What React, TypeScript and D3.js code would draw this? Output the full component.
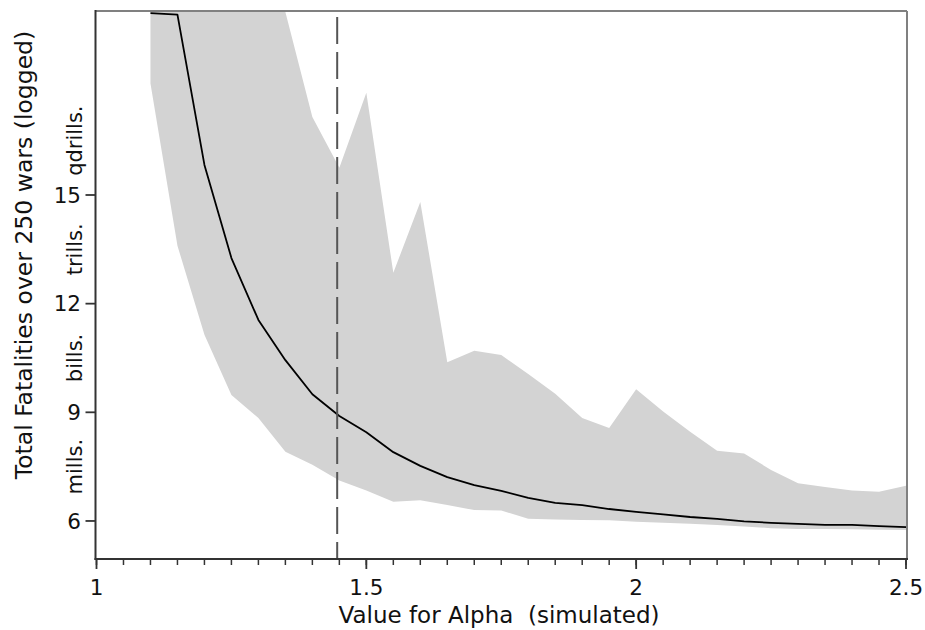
import React from "react";
import * as d3 from "d3";

const alpha = [1.1, 1.15, 1.2, 1.25, 1.3, 1.35, 1.4, 1.45, 1.5, 1.55, 1.6, 1.65, 1.7, 1.75, 1.8, 1.85, 1.9, 1.95, 2.0, 2.05, 2.1, 2.15, 2.2, 2.25, 2.3, 2.35, 2.4, 2.45, 2.5];
const median = [20.02, 19.98, 15.83, 13.26, 11.55, 10.44, 9.5, 8.9, 8.45, 7.9, 7.52, 7.21, 6.99, 6.83, 6.64, 6.5, 6.44, 6.33, 6.25, 6.18, 6.11, 6.06, 5.99, 5.95, 5.92, 5.89, 5.89, 5.86, 5.83];
const upper = [20.5, 20.5, 20.5, 20.5, 20.5, 20.05, 17.15, 15.75, 17.82, 12.85, 14.81, 10.38, 10.7, 10.58, 10.06, 9.51, 8.84, 8.57, 9.64, 9.02, 8.46, 7.94, 7.86, 7.41, 7.04, 6.94, 6.84, 6.81, 6.97];
const lower = [18.08, 13.6, 11.14, 9.48, 8.84, 7.91, 7.55, 7.12, 6.84, 6.53, 6.57, 6.44, 6.3, 6.29, 6.06, 6.04, 6.03, 6.02, 5.98, 5.95, 5.92, 5.89, 5.85, 5.8, 5.78, 5.78, 5.77, 5.76, 5.75];

const xTicks = [1, 1.5, 2, 2.5];
const xTickLabels = ["1", "1.5", "2", "2.5"];
const yTicks = [6, 9, 12, 15];
const unitPos = [7.5, 10.5, 13.5, 16.5];
const unitLabels = ["mills.", "bills.", "trills.", "qdrills."];
const refAlpha = 1.446;

const W = 925;
const H = 630;
const left = 95.5;
const right = 907;
const top = 11;
const bottom = 559;

export default function App() {
  const x = d3.scaleLinear().domain([1, 2.5]).range([96.5, 906]);
  const y = d3.scaleLinear().domain([4.95, 20.08]).range([bottom, top]);

  const idx = alpha.map((_, i) => i);
  const area = d3
    .area<number>()
    .x((i) => x(alpha[i]))
    .y0((i) => y(lower[i]))
    .y1((i) => y(upper[i]));
  const line = d3
    .line<number>()
    .x((i) => x(alpha[i]))
    .y((i) => y(median[i]));

  const minor = d3.range(0, 31).map((k) => 1 + k * 0.05);
  const font = "'DejaVu Sans', Verdana, sans-serif";

  return (
    <svg width={W} height={H} style={{ position: "absolute", left: 0, top: 0, background: "#fff" }}>
      <defs>
        <clipPath id="plot">
          <rect x={left} y={top} width={right - left} height={bottom - top} />
        </clipPath>
      </defs>
      <g clipPath="url(#plot)">
        <path d={area(idx) || ""} fill="#d3d3d3" stroke="none" />
        <path d={line(idx) || ""} fill="none" stroke="#000" strokeWidth={1.8} strokeLinejoin="round" />
      </g>
      <line
        x1={x(refAlpha)}
        x2={x(refAlpha)}
        y1={y.range()[1] + 6}
        y2={bottom}
        stroke="#555"
        strokeWidth={2}
        strokeDasharray="27 8"
      />
      {/* frame */}
      <line x1={left} x2={right} y1={top} y2={top} stroke="#808080" strokeWidth={2} />
      <line x1={right} x2={right} y1={top} y2={bottom} stroke="#808080" strokeWidth={2} />
      <line x1={left} x2={left} y1={top - 1} y2={bottom + 1} stroke="#333" strokeWidth={2} />
      <line x1={left - 1} x2={right + 1} y1={bottom} y2={bottom} stroke="#333" strokeWidth={2} />
      {/* x ticks */}
      {minor.map((v, i) => (
        <line key={"m" + i} x1={x(v)} x2={x(v)} y1={bottom} y2={bottom + 6} stroke="#333" strokeWidth={1.5} />
      ))}
      {xTicks.map((v, i) => (
        <g key={"x" + i}>
          <line x1={x(v)} x2={x(v)} y1={bottom} y2={bottom + 10} stroke="#333" strokeWidth={1.8} />
          <text x={x(v)} y={595} textAnchor="middle" fontFamily={font} fontSize={21.5} fill="#111">
            {xTickLabels[i]}
          </text>
        </g>
      ))}
      {/* y ticks */}
      {yTicks.map((v, i) => (
        <g key={"y" + i}>
          <line x1={left - 10} x2={left} y1={y(v)} y2={y(v)} stroke="#333" strokeWidth={1.8} />
          <text x={81} y={y(v) + 7.8} textAnchor="end" fontFamily={font} fontSize={21.5} fill="#111">
            {String(v)}
          </text>
        </g>
      ))}
      {unitPos.map((v, i) => (
        <text
          key={"u" + i}
          transform={`translate(81.5, ${y(v)}) rotate(-90)`}
          textAnchor="middle"
          fontFamily={font}
          fontSize={21}
          fill="#111"
        >
          {unitLabels[i]}
        </text>
      ))}
      <text
        transform={`translate(31.5, 255) rotate(-90)`}
        textAnchor="middle"
        fontFamily={font}
        fontSize={23.5}
        fill="#111"
      >
        Total Fatalities over 250 wars (logged)
      </text>
      <text x={499} y={623} textAnchor="middle" fontFamily={font} fontSize={23} fill="#111" style={{ whiteSpace: "pre" }}>
        {"Value for Alpha  (simulated)"}
      </text>
    </svg>
  );
}
